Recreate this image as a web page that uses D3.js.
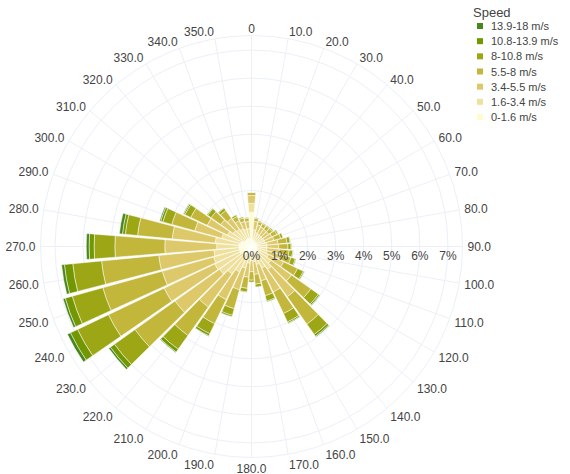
<!DOCTYPE html>
<html><head><meta charset="utf-8">
<script src="https://cdn.jsdelivr.net/npm/d3@7"></script>
<style>
html,body{margin:0;padding:0;background:#fff;}
svg{display:block;font-family:"Liberation Sans",Arial,sans-serif;}
</style></head>
<body><svg id="c" width="570" height="474"></svg>
<script>
const directions = [0,10,20,30,40,50,60,70,80,90,100,110,120,130,140,150,160,170,180,190,200,210,220,230,240,250,260,270,280,290,300,310,320,330,340,350];
const angleLabels = ["0","10.0","20.0","30.0","40.0","50.0","60.0","70.0","80.0","90.0","100.0","110.0","120.0","130.0","140.0","150.0","160.0","170.0","180.0","190.0","200.0","210.0","220.0","230.0","240.0","250.0","260.0","270.0","280.0","290.0","300.0","310.0","320.0","330.0","340.0","350.0"];
const speedBins = ["0-1.6 m/s","1.6-3.4 m/s","3.4-5.5 m/s","5.5-8 m/s","8-10.8 m/s","10.8-13.9 m/s","13.9-18 m/s"];
const binColors = ["rgb(254,252,205)","rgb(239,225,156)","rgb(221,201,106)","rgb(194,182,59)","rgb(157,167,21)","rgb(115,151,1)","rgb(72,135,26)"];
const radialTicks = [0,1,2,3,4,5,6,7];

// frequency (%) per direction, one array per speed bin
const s0_16   = [1.22,0.25,0.22,0.20,0.20,0.20,0.20,0.20,0.20,0.20,0.20,0.20,0.22,0.25,0.30,0.25,0.22,0.20,0.20,0.22,0.25,0.30,0.35,0.40,0.45,0.45,0.45,0.45,0.45,0.40,0.35,0.30,0.30,0.30,0.30,0.30];
const s16_34  = [0.32,0.35,0.30,0.30,0.28,0.28,0.30,0.30,0.35,0.35,0.35,0.38,0.45,0.60,0.70,0.60,0.45,0.35,0.30,0.38,0.55,0.70,0.85,1.00,1.00,0.95,0.90,0.79,0.85,0.70,0.60,0.50,0.45,0.40,0.35,0.35];
const s34_55  = [0.28,0.30,0.28,0.27,0.27,0.27,0.30,0.33,0.40,0.42,0.45,0.48,0.60,0.90,1.20,0.95,0.60,0.45,0.40,0.50,0.80,1.10,1.45,1.95,2.00,1.90,1.97,1.85,1.54,1.00,0.80,0.55,0.48,0.32,0.28,0.25];
const s55_8   = [0.10,0.11,0.12,0.13,0.15,0.16,0.20,0.25,0.32,0.33,0.35,0.40,0.55,0.85,1.20,0.85,0.55,0.35,0.30,0.40,0.70,0.95,1.25,1.75,2.20,2.20,2.05,1.78,1.24,0.85,0.65,0.42,0.35,0.17,0.13,0.12];
const s8_108  = [0.00,0.03,0.03,0.03,0.03,0.04,0.05,0.08,0.11,0.11,0.13,0.16,0.23,0.33,0.45,0.33,0.20,0.10,0.07,0.13,0.25,0.40,0.60,0.90,1.22,1.13,1.03,0.74,0.44,0.33,0.23,0.15,0.10,0.06,0.04,0.03];
const s108_139= [0.00,0.00,0.00,0.00,0.00,0.00,0.00,0.00,0.02,0.02,0.02,0.03,0.04,0.05,0.08,0.05,0.03,0.00,0.00,0.02,0.05,0.08,0.12,0.18,0.28,0.26,0.30,0.18,0.10,0.08,0.05,0.03,0.02,0.00,0.00,0.00];
const s139_18 = [0.00,0.00,0.00,0.00,0.00,0.00,0.00,0.00,0.00,0.00,0.00,0.00,0.01,0.02,0.03,0.02,0.00,0.00,0.00,0.00,0.00,0.02,0.03,0.07,0.12,0.08,0.10,0.10,0.11,0.04,0.02,0.00,0.00,0.00,0.00,0.00];
const seriesValues = [s0_16,s16_34,s34_55,s55_8,s8_108,s108_139,s139_18];

const svg = d3.select("#c");
const cx = 251.5, cy = 246.5, R = 211;
const rMax = 7.52;
const r = d3.scaleLinear().domain([0, rMax]).range([0, R]);
const ang = d3.scaleLinear().domain([0, 360]).range([0, 2*Math.PI]);
const barWidthDeg = 9;
const gridColor = "#ebf0f8";
const textColor = "#444";

const g = svg.append("g").attr("transform", `translate(${cx},${cy})`);

g.selectAll("circle.grid").data(radialTicks.filter(d=>d>0)).join("circle")
  .attr("r", d=>r(d)).attr("fill","none").attr("stroke",gridColor).attr("stroke-width",1);
g.selectAll("line.ag").data(directions).join("line")
  .attr("x1",0).attr("y1",0)
  .attr("x2", d=>R*Math.sin(ang(d))).attr("y2", d=>-R*Math.cos(ang(d)))
  .attr("stroke",gridColor).attr("stroke-width",1);
g.append("circle").attr("r", R).attr("fill","none").attr("stroke",gridColor).attr("stroke-width",1);

const stacks = directions.map((d,i)=>{
  let acc = 0;
  return seriesValues.map((s,k)=>{ const a = acc; acc += s[i]; return {dir:d, k, r0:a, r1:acc}; });
});
const arc = d3.arc();
const segs = stacks.flat().filter(s=>s.r1 > s.r0);
g.selectAll("path.bar").data(segs).join("path")
  .attr("d", s=>arc({innerRadius:r(s.r0), outerRadius:r(s.r1),
      startAngle: ang(s.dir - barWidthDeg/2), endAngle: ang(s.dir + barWidthDeg/2)}))
  .attr("fill", s=>binColors[s.k])
  .attr("stroke","#fff").attr("stroke-width",0.5);

g.selectAll("text.rt").data(radialTicks).join("text")
  .attr("x", d=>r(d)).attr("y", 9)
  .attr("text-anchor","middle").attr("dominant-baseline","central")
  .attr("font-size",12).attr("fill",textColor)
  .text(d=>d+"%");

const pad = 5;
g.selectAll("text.at").data(directions).join("text")
  .each(function(d,i){
    const a = ang(d);
    const sx = Math.sin(a), cyy = -Math.cos(a);
    const off = cyy < 0 ? cyy*2 + 0.5 : cyy*5.5 + 0.5;
    const x = (R+pad)*sx, y = (R+pad)*cyy + off;
    const anchor = Math.abs(sx) < 0.05 ? "middle" : (sx > 0 ? "start" : "end");
    d3.select(this).attr("x", x).attr("y", y)
      .attr("text-anchor", anchor).attr("dominant-baseline","central")
      .attr("font-size",12).attr("fill",textColor).text(angleLabels[i]);
  });

const lg = svg.append("g").attr("transform","translate(473,0)");
lg.append("text").attr("x",0).attr("y",12).attr("dominant-baseline","central")
  .attr("font-size",13).attr("fill",textColor).text("Speed");
const order = d3.range(speedBins.length).reverse();
const ly = d3.scalePoint().domain(order).range([26, 117]);
const items = lg.selectAll("g.it").data(order).join("g")
  .attr("transform", k=>`translate(0,${ly(k)})`);
items.append("rect").attr("x",4).attr("y",-3).attr("width",6).attr("height",6)
  .attr("fill", k=>binColors[k]);
items.append("text").attr("x",18).attr("y",0).attr("dominant-baseline","central")
  .attr("font-size",11).attr("fill",textColor).text(k=>speedBins[k]);
</script></body></html>
